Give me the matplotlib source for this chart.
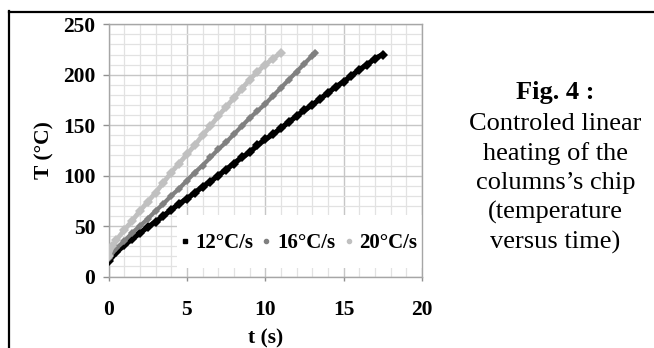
import matplotlib
matplotlib.use("Agg")
import matplotlib.pyplot as plt
from matplotlib.lines import Line2D
from matplotlib.patches import Rectangle
from matplotlib.ticker import MultipleLocator

# ---- data ----
t12 = [0, 0.5, 1, 1.5, 2, 2.5, 3, 3.5, 4, 4.5, 5, 5.5, 6, 6.5, 7, 7.5, 8, 8.5,
       9, 9.5, 10, 10.5, 11, 11.5, 12, 12.5, 13, 13.5, 14, 14.5, 15, 15.5, 16,
       16.5, 17, 17.5]
T12 = [15, 24, 31, 37, 43, 49, 54, 60, 66, 72, 77, 83, 89, 94, 100, 106, 112,
       118, 123, 130, 136, 141, 147, 153, 159, 165, 170, 176, 182, 188, 193,
       199, 205, 210, 216, 220]

t16 = [0, 0.5, 1, 1.5, 2, 2.5, 3, 3.5, 4, 4.5, 5, 5.5, 6, 6.5, 7, 7.5, 8, 8.5,
       9, 9.5, 10, 10.5, 11, 11.5, 12, 12.5, 13, 13.2]
T16 = [18, 28, 35, 43, 50, 57, 65, 72, 80, 87, 95, 103, 110, 118, 126, 133,
       141, 149, 157, 164, 171, 179, 187, 195, 203, 211, 219, 222]

t20 = [0, 0.25, 0.5, 1, 1.5, 2, 2.5, 3, 3.5, 4, 4.5, 5, 5.5, 6, 6.5, 7, 7.5,
       8, 8.5, 9, 9.5, 10, 10.5, 11]
T20 = [20, 30, 36, 46, 55, 65, 74, 83, 93, 103, 112, 121, 130, 140, 149, 159,
       168, 177, 186, 195, 203, 210, 216, 222]

series_labels = ["12°C/s", "16°C/s", "20°C/s"]
x_ticks = [0, 5, 10, 15, 20]
y_ticks = [0, 50, 100, 150, 200, 250]
caption_title = "Fig. 4 :"
caption_body = "Controled linear\nheating of the\ncolumns\u2019s chip\n(temperature\nversus time)"

# ---- figure ----
W, H = 654, 348
fig = plt.figure(figsize=(W / 100, H / 100), dpi=100)
serif = ["Liberation Serif", "DejaVu Serif"]
plt.rcParams["font.family"] = serif

ax_l, ax_r, ax_t, ax_b = 108.5, 422, 24.3, 276.5
aw, ah = ax_r - ax_l, ax_b - ax_t
ax = fig.add_axes([ax_l / W, 1 - ax_b / H, aw / W, ah / H])

ax.set_xlim(0, 20)
ax.set_ylim(0, 250)
ax.xaxis.set_minor_locator(MultipleLocator(1))
ax.yaxis.set_minor_locator(MultipleLocator(10))
ax.set_xticks(x_ticks)
ax.set_yticks(y_ticks)

ax.grid(which="minor", color="#e2e2e2", lw=0.9, zorder=0)
ax.grid(which="major", color="#c6c6c6", lw=1.0, zorder=0)
ax.set_axisbelow(True)
for s in ax.spines.values():
    s.set_color("#a6a6a6")
    s.set_linewidth(1.0)

ax.tick_params(axis="y", which="major", direction="out", length=4.5, width=1,
               color="#909090", pad=5)
ax.tick_params(axis="x", which="major", direction="out", length=2.8, width=1,
               color="#909090", pad=14)
ax.tick_params(which="minor", length=0)
for lab in ax.get_xticklabels() + ax.get_yticklabels():
    lab.set_fontweight("bold")
    lab.set_fontsize(15.5)

ax.plot(t12, T12, color="#000000", lw=3.8, marker="D", ms=5.5, mew=0,
        label=series_labels[0], zorder=3)
ax.plot(t16, T16, color="#808080", lw=3.0, marker="D", ms=4.5, mew=0,
        label=series_labels[1], zorder=3)
ax.plot(t20, T20, color="#c0c0c0", lw=3.4, marker="D", ms=4.8, mew=0,
        label=series_labels[2], zorder=3)

# legend background (white box covering the grid)
ax.add_patch(Rectangle(((177 - ax_l) / aw, (ax_b - 268) / ah),
                       (421.5 - 177) / aw, (268 - 215) / ah,
                       transform=ax.transAxes, facecolor="white",
                       edgecolor="none", zorder=2))

handles = [
    Line2D([], [], ls="none", marker="s", ms=3.5, color="#000000"),
    Line2D([], [], ls="none", marker="o", ms=3, color="#808080"),
    Line2D([], [], ls="none", marker="o", ms=3, color="#c0c0c0"),
]
leg = ax.legend(handles, series_labels, loc="center right",
                bbox_to_anchor=(1.0 - 4.5 / aw, (ax_b - 243) / ah), ncol=3,
                frameon=False, handlelength=0.45, handletextpad=0.3,
                columnspacing=0.4, borderpad=0, borderaxespad=0,
                prop={"family": serif, "weight": "bold", "size": 15})
leg.set_zorder(4)

ax.set_ylabel("T (°C)", fontsize=15.5, fontweight="bold", va="center")
ax.set_xlabel("t (s)", fontsize=15.5, fontweight="bold", va="center")
ax.yaxis.set_label_coords((44 - ax_l) / aw, 0.5)
ax.xaxis.set_label_coords(0.5, (ax_b - 338) / ah)

# frame lines of the figure panel
fig.add_artist(Line2D([8.5 / W, 1.0], [1 - 11.7 / H, 1 - 11.7 / H],
                      color="black", lw=1.6, transform=fig.transFigure))
fig.add_artist(Line2D([8.5 / W, 8.5 / W], [1 - 11.0 / H, 0.0],
                      color="black", lw=1.6, transform=fig.transFigure))

# caption
fig.text(555.5 / W, 1 - 92 / H, caption_title, ha="center", va="center",
         fontsize=19, fontweight="bold")
fig.text(555.5 / W, 1 - 183.5 / H, caption_body, ha="center", va="center",
         fontsize=19, linespacing=1.4, multialignment="center")

fig.savefig("out.png", dpi=100)
